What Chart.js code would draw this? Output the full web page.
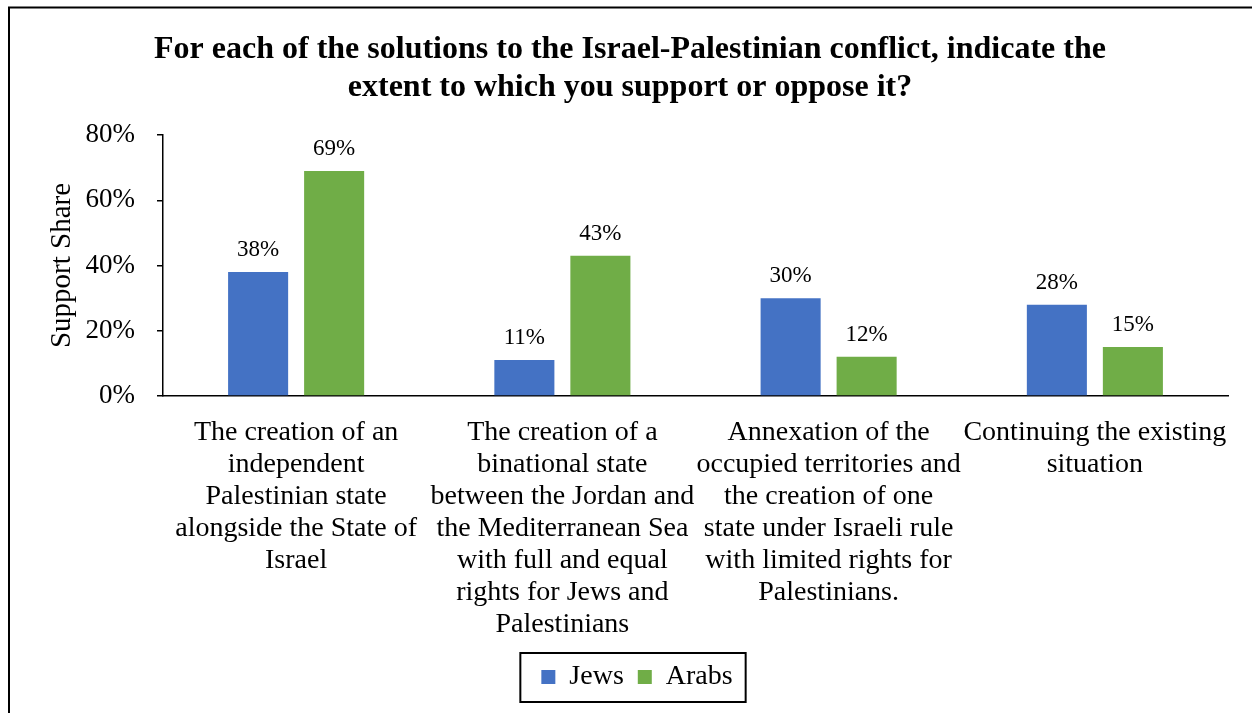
<!DOCTYPE html>
<html>
<head>
<meta charset="utf-8">
<script src="https://cdn.jsdelivr.net/npm/chart.js@4.4.1/dist/chart.umd.min.js"></script>
<style>
  html, body { margin: 0; padding: 0; background: #fff; }
  #wrap { width: 1252px; height: 713px; position: relative; }
</style>
</head>
<body>
<div id="wrap"><canvas id="chart" width="1252" height="713"></canvas></div>
<script>
// Chart text
const titleLines = [
  'For each of the solutions to the Israel-Palestinian conflict, indicate the',
  'extent to which you support or oppose it?'
];
const yAxisTitle = 'Support Share';

// Categories (each entry is one wrapped label, one string per line)
const categories = [
  ['The creation of an', 'independent', 'Palestinian state', 'alongside the State of', 'Israel'],
  ['The creation of a', 'binational state', 'between the Jordan and', 'the Mediterranean Sea', 'with full and equal', 'rights for Jews and', 'Palestinians'],
  ['Annexation of the', 'occupied territories and', 'the creation of one', 'state under Israeli rule', 'with limited rights for', 'Palestinians.'],
  ['Continuing the existing', 'situation']
];

// Series (percent support)
const seriesNames = ['Jews', 'Arabs'];
const jewsSupport = [38, 11, 30, 28];
const arabsSupport = [69, 43, 12, 15];

// Y axis ticks (percent)
const yTicks = [0, 20, 40, 60, 80];

const SERIF = '"Liberation Serif", "Times New Roman", serif';

// White background and outer frame
const framePlugin = {
  id: 'frame',
  beforeDraw(chart) {
    const ctx = chart.ctx;
    ctx.save();
    ctx.fillStyle = '#ffffff';
    ctx.fillRect(0, 0, chart.width, chart.height);
    ctx.strokeStyle = '#000000';
    ctx.lineWidth = 2;
    ctx.strokeRect(9, 7.5, chart.width + 20, chart.height + 20);
    ctx.restore();
  }
};

// Two-line bold heading centred over the chart
const headingPlugin = {
  id: 'heading',
  afterDraw(chart) {
    const ctx = chart.ctx;
    ctx.save();
    ctx.font = 'bold 32px ' + SERIF;
    ctx.fillStyle = '#000000';
    ctx.textAlign = 'center';
    ctx.textBaseline = 'alphabetic';
    titleLines.forEach((line, i) => ctx.fillText(line, 630, 58 + i * 38));
    ctx.restore();
  }
};

// Percentage labels above each bar
const valueLabelPlugin = {
  id: 'valueLabels',
  afterDatasetsDraw(chart) {
    const ctx = chart.ctx;
    ctx.save();
    ctx.font = '23px ' + SERIF;
    ctx.fillStyle = '#000000';
    ctx.textAlign = 'center';
    ctx.textBaseline = 'alphabetic';
    chart.data.datasets.forEach((ds, di) => {
      const meta = chart.getDatasetMeta(di);
      meta.data.forEach((bar, i) => {
        ctx.fillText(ds.data[i] + '%', bar.x, bar.y - 16);
      });
    });
    ctx.restore();
  }
};

// Box around the legend items
const legendBoxPlugin = {
  id: 'legendBox',
  afterDraw(chart) {
    const hb = chart.legend && chart.legend.legendHitBoxes;
    if (!hb || !hb.length) return;
    const first = hb[0], last = hb[hb.length - 1];
    const left = first.left - 21;
    const right = last.left + last.width + 13;
    const top = first.top - 10;
    const bottom = first.top + first.height + 11;
    const ctx = chart.ctx;
    ctx.save();
    ctx.strokeStyle = '#000000';
    ctx.lineWidth = 2;
    ctx.strokeRect(left, top, right - left, bottom - top);
    ctx.restore();
  }
};

new Chart(document.getElementById('chart'), {
  type: 'bar',
  data: {
    labels: categories,
    datasets: [
      { label: seriesNames[0], data: jewsSupport, backgroundColor: '#4472C4', yAxisID: 'y' },
      { label: seriesNames[1], data: arabsSupport, backgroundColor: '#70AD47', yAxisID: 'y' }
    ]
  },
  options: {
    responsive: false,
    animation: false,
    devicePixelRatio: 1,
    categoryPercentage: 0.571,
    barPercentage: 0.79,
    layout: { padding: { left: 24, right: 2, top: 135, bottom: 12 } },
    plugins: {
      title: { display: false },
      tooltip: { enabled: false },
      legend: {
        display: true,
        position: 'bottom',
        labels: {
          boxWidth: 14,
          boxHeight: 14,
          padding: 14,
          color: '#000000',
          font: { family: SERIF, size: 28 }
        }
      }
    },
    scales: {
      x: {
        type: 'category',
        grid: { display: false, drawTicks: false },
        border: { display: true, color: '#000000', width: 1.5 },
        ticks: {
          color: '#000000',
          font: { family: SERIF, size: 28, lineHeight: 32 / 28 },
          padding: 21,
          maxRotation: 0,
          minRotation: 0,
          autoSkip: false
        },
        afterFit(scale) { scale.height = 253; }
      },
      y: {
        type: 'linear',
        position: 'left',
        min: yTicks[0],
        max: yTicks[yTicks.length - 1],
        afterBuildTicks(scale) { scale.ticks = yTicks.map(v => ({ value: v })); },
        grid: { display: true, drawOnChartArea: false, drawTicks: true, tickLength: 6, color: '#000000', lineWidth: 1.5 },
        border: { display: true, color: '#000000', width: 1.5 },
        ticks: {
          color: '#000000',
          font: { family: SERIF, size: 27 },
          padding: 22,
          callback: v => v + '%'
        },
        title: {
          display: true,
          text: yAxisTitle,
          color: '#000000',
          font: { family: SERIF, size: 29 },
          padding: { top: 21, bottom: 0 }
        },
        afterFit(scale) { scale.width = 139; }
      },
      yRight: {
        type: 'linear',
        position: 'right',
        display: true,
        grid: { display: false, drawTicks: false },
        border: { display: false },
        ticks: { display: false },
        afterFit(scale) { scale.width = 22; }
      }
    }
  },
  plugins: [framePlugin, headingPlugin, valueLabelPlugin, legendBoxPlugin]
});
</script>
</body>
</html>
